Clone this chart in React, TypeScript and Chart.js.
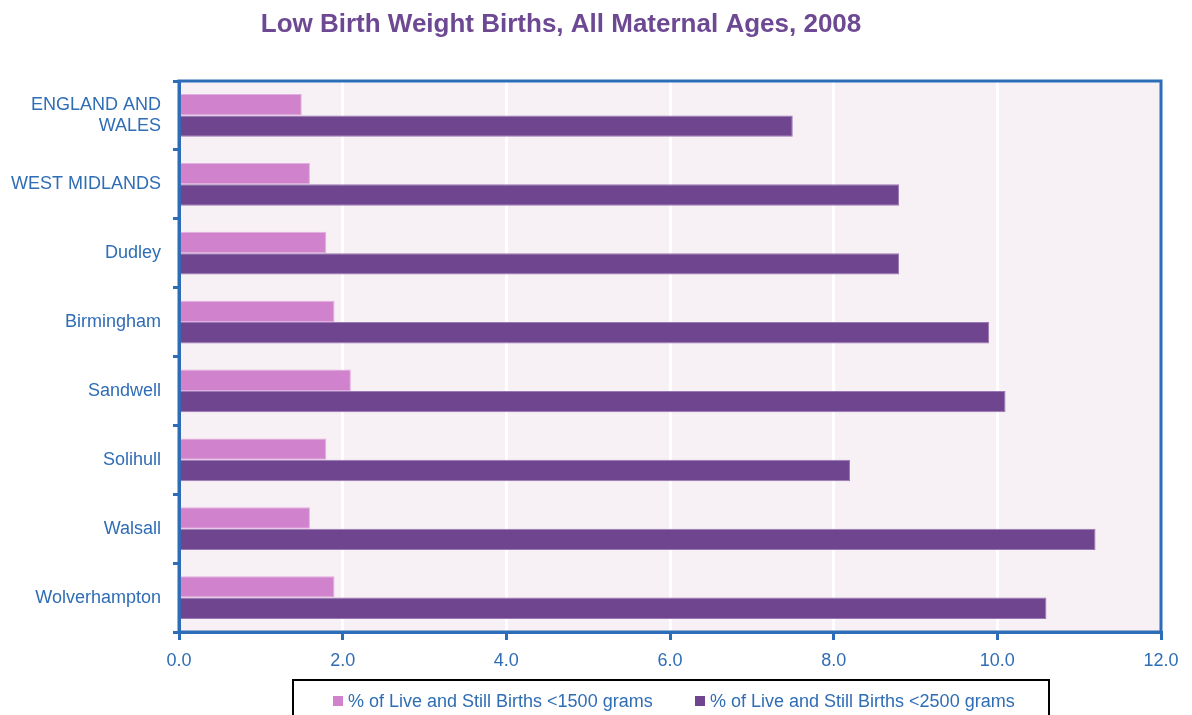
import React, { useEffect, useRef } from "react";
import { Chart, registerables } from "chart.js";

Chart.register(...registerables);

const title = "Low Birth Weight Births, All Maternal Ages, 2008";
const categories: (string | string[])[] = [
  ["ENGLAND AND", "WALES"],
  "WEST MIDLANDS",
  "Dudley",
  "Birmingham",
  "Sandwell",
  "Solihull",
  "Walsall",
  "Wolverhampton",
];
const seriesNames = [
  "% of Live and Still Births <1500 grams",
  "% of Live and Still Births <2500 grams",
];
const under1500 = [1.5, 1.6, 1.8, 1.9, 2.1, 1.8, 1.6, 1.9];
const under2500 = [7.5, 8.8, 8.8, 9.9, 10.1, 8.2, 11.2, 10.6];
const xTicks = [0, 2, 4, 6, 8, 10, 12];

const FONT = "'Liberation Sans', Arial, sans-serif";
const BLUE = "#2C6DB8";
const TEXT_BLUE = "#2F6DB5";
const PINK = "#D082CC";
const PURPLE = "#70458F";
const BG = "#F7F0F5";
const TITLE = "#6E4993";

const W = 1176;
const H = 707;

export default function App() {
  const ref = useRef<HTMLCanvasElement | null>(null);
  useEffect(() => {
    if (!ref.current) return;
    const decor = {
      id: "decor",
      beforeDraw(chart: any) {
        const { ctx, chartArea: a } = chart;
        ctx.save();
        ctx.fillStyle = "#ffffff";
        ctx.fillRect(0, 0, chart.width, chart.height);
        ctx.fillStyle = BG;
        ctx.fillRect(a.left, a.top, a.right - a.left, a.bottom - a.top);
        ctx.restore();
      },
      afterDraw(chart: any) {
        const { ctx, chartArea: a } = chart;
        ctx.save();
        ctx.strokeStyle = BLUE;
        ctx.lineWidth = 3;
        ctx.strokeRect(a.left, a.top, a.right - a.left, a.bottom - a.top);
        // title
        ctx.fillStyle = TITLE;
        ctx.font = `bold 26px ${FONT}`;
        ctx.textAlign = "center";
        ctx.textBaseline = "middle";
        ctx.fillText(title, 553, 17);
        // legend
        ctx.strokeStyle = "#000000";
        ctx.lineWidth = 2;
        ctx.fillStyle = "#ffffff";
        ctx.fillRect(285, 672, 756, 45);
        ctx.strokeRect(285, 672, 756, 45);
        ctx.font = `18px ${FONT}`;
        ctx.textAlign = "left";
        const colors = [PINK, PURPLE];
        const xs = [325, 687];
        seriesNames.forEach((name, i) => {
          ctx.fillStyle = colors[i];
          ctx.fillRect(xs[i], 688, 10, 10);
          ctx.fillStyle = TEXT_BLUE;
          ctx.fillText(name, xs[i] + 15, 694);
        });
        ctx.restore();
      },
    };
    const chart = new Chart(ref.current, {
      type: "bar",
      data: {
        labels: categories,
        datasets: [
          {
            label: seriesNames[0],
            data: under1500,
            backgroundColor: PINK,
            borderColor: "#E2AEDF",
            borderWidth: 1,
            categoryPercentage: 0.62,
            barPercentage: 1,
          },
          {
            label: seriesNames[1],
            data: under2500,
            backgroundColor: PURPLE,
            borderColor: "#9A78B4",
            borderWidth: 1,
            categoryPercentage: 0.62,
            barPercentage: 1,
          },
        ],
      },
      options: {
        indexAxis: "y",
        responsive: false,
        animation: false,
        layout: { padding: { top: 73, right: 23, left: 0, bottom: 0 } },
        plugins: {
          legend: { display: false },
          title: { display: false },
          tooltip: { enabled: false },
        },
        scales: {
          x: {
            min: 0,
            max: 12,
            afterFit(s: any) {
              s.height = 83;
              s.paddingLeft = 0;
              s.paddingRight = 0;
            },
            afterBuildTicks(s: any) {
              s.ticks = xTicks.map((v) => ({ value: v }));
            },
            ticks: {
              color: TEXT_BLUE,
              font: { family: FONT, size: 18 },
              padding: 10,
              callback: (v: any) => Number(v).toFixed(1),
            },
            grid: {
              color: "#ffffff",
              lineWidth: 3,
              tickColor: BLUE,
              tickLength: 8,
              drawOnChartArea: true,
            },
            border: { color: BLUE, width: 3 },
          },
          y: {
            afterFit(s: any) {
              s.width = 171;
            },
            ticks: {
              color: TEXT_BLUE,
              font: { family: FONT, size: 18 },
              padding: 12,
            },
            grid: {
              offset: true,
              drawOnChartArea: false,
              color: BLUE,
              tickColor: BLUE,
              lineWidth: 3,
              tickLength: 6,
            },
            border: { color: BLUE, width: 3 },
          },
        },
      },
      plugins: [decor],
    });
    return () => chart.destroy();
  }, []);
  return <canvas ref={ref} width={W} height={H} style={{ display: "block", width: W, height: H }} />;
}
